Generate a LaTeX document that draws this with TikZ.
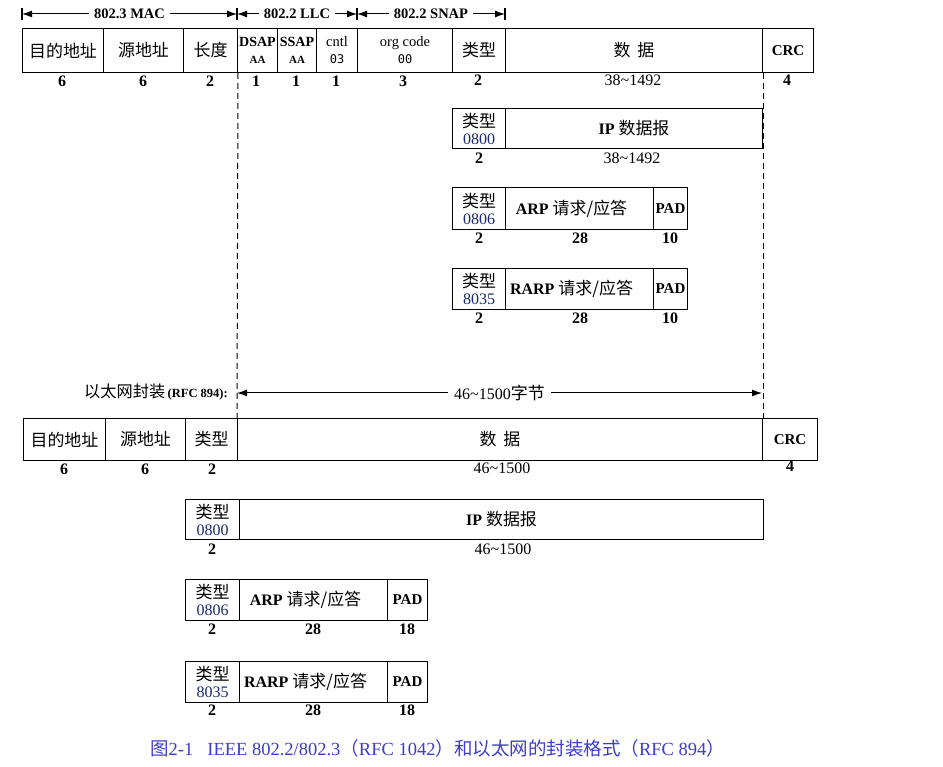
\documentclass[tikz,border=0pt]{standalone}
\usepackage{fontspec}
\setmainfont{Liberation Serif}
\newfontfamily\cjk[Scale=1.06]{Noto Sans CJK SC}
\newfontfamily\cjkc{Noto Sans CJK SC}
\newfontfamily\monof{DejaVu Sans Mono}
\usetikzlibrary{arrows.meta}
\definecolor{capblue}{RGB}{60,60,205}
\definecolor{numblue}{RGB}{25,40,110}
\newcommand\fld[6]{\node[cell, minimum width=#4pt, minimum height=#5pt] (#1) at (#2,#3) {#6};}
\newcommand\padfont{\fontsize{15}{18}\selectfont\bfseries}
\begin{document}
\begin{tikzpicture}[x=1pt,y=-1pt,
  cell/.style={draw, line width=1pt, anchor=north west, inner sep=0pt, align=center, font=\fontsize{16}{17}\selectfont},
  num/.style={font=\fontsize{16}{18}\selectfont\bfseries, inner sep=0pt},
  rng/.style={font=\fontsize{16}{18}\selectfont, inner sep=0pt},
  dashline/.style={line width=1pt, dash pattern=on 6pt off 4pt},
  span/.style={line width=1pt, {Latex[length=10pt,width=7pt]}-{Latex[length=10pt,width=7pt]}},
  barline/.style={line width=1.2pt},
  lbl/.style={fill=white, inner xsep=5pt, inner ysep=1pt, font=\fontsize{14.5}{16}\selectfont\bfseries},
  spanlbl/.style={fill=white, inner xsep=6pt, inner ysep=1pt, font=\fontsize{16}{18}\selectfont},
]
\useasboundingbox (0,0) rectangle (943,767);
% ---------- header spans
\coordinate (h0) at (22,14);
\coordinate (h1) at (237,14);
\coordinate (h2) at (357,14);
\coordinate (h3) at (505,14);
\draw[span] (h0) -- (h1) node[midway, lbl] (mac) {802.3 MAC};
\draw[span] (h1) -- (h2) node[midway, lbl] (llc) {802.2 LLC};
\draw[span] (h2) -- (h3) node[midway, lbl] (snap) {802.2 SNAP};
\foreach \h in {h0,h1,h2,h3}{\draw[barline] ([yshift=6pt]\h) -- ([yshift=-6pt]\h);}
% ---------- IEEE 802.2/802.3 frame
\fld{da}{22}{28}{81}{44}{\cjk 目的地址}
\fld{sa}{103}{28}{80}{44}{\cjk 源地址}
\fld{len}{183}{28}{54}{44}{\cjk 长度}
\fld{dsap}{237}{28}{40}{44}{\fontsize{14}{18}\selectfont\bfseries DSAP\\\fontsize{11}{18}\selectfont\bfseries AA}
\fld{ssap}{277}{28}{39}{44}{\fontsize{14}{18}\selectfont\bfseries SSAP\\\fontsize{11}{18}\selectfont\bfseries AA}
\fld{cntl}{316}{28}{41}{44}{\fontsize{14.5}{18}\selectfont cntl\\\monof\fontsize{12}{18}\selectfont 03}
\fld{org}{357}{28}{95}{44}{\fontsize{14.5}{18}\selectfont org code\\\monof\fontsize{12}{18}\selectfont 00}
\fld{typ}{452}{28}{53}{44}{\cjk 类型}
\fld{data}{505}{28}{257}{44}{{\cjk 数}\hspace{7pt}{\cjk 据}}
\fld{crc}{762}{28}{51}{44}{\fontsize{15}{18}\selectfont\bfseries CRC}
\node[num] (n1) at (62,81) {6};
\node[num] (n2) at (143,81) {6};
\node[num] (n3) at (210,81) {2};
\node[num] (n4) at (256,81) {1};
\node[num] (n5) at (296,81) {1};
\node[num] (n6) at (336,81) {1};
\node[num] (n7) at (403,81) {3};
\node[num] (n8) at (478,80) {2};
\node[rng] (n9) at (633,80) {38\textasciitilde 1492};
\node[num] (n10) at (787,80) {4};
% IP
\fld{ipt}{452}{108}{53}{40}{{\cjk 类型}\\{\color{numblue}0800}}
\fld{ipd}{505}{108}{257}{40}{\bfseries IP {\mdseries\cjk 数据报}}
\node[num] (n11) at (479,158) {2};
\node[rng] (n12) at (632,158) {38\textasciitilde 1492};
% ARP
\fld{arpt}{452}{187}{53}{42}{{\cjk 类型}\\{\color{numblue}0806}}
\fld{arpd}{505}{187}{148}{42}{\bfseries ARP {\mdseries\cjk 请求/应答}\hspace*{16pt}}
\fld{arpp}{653}{187}{34}{42}{\padfont PAD}
\node[num] (n13) at (479,238) {2};
\node[num] (n14) at (580,238) {28};
\node[num] (n15) at (670,238) {10};
% RARP
\fld{rarpt}{452}{268}{53}{41}{{\cjk 类型}\\{\color{numblue}8035}}
\fld{rarpd}{505}{268}{148}{41}{\bfseries RARP {\mdseries\cjk 请求/应答}\hspace*{16pt}}
\fld{rarpp}{653}{268}{34}{41}{\padfont PAD}
\node[num] (n16) at (479,318) {2};
\node[num] (n17) at (580,318) {28};
\node[num] (n18) at (670,318) {10};
% ---------- Ethernet encapsulation
\node[anchor=east, inner sep=0pt] (elbl) at (228,392) {{\cjk\fontsize{15.3}{18}\selectfont 以太网封装} {\fontsize{12.5}{14}\selectfont\bfseries (RFC 894):}};
\coordinate (e0) at (237,393);
\coordinate (e1) at (762,393);
\draw[span] (e0) -- (e1) node[midway, spanlbl] (elen) {46\textasciitilde 1500{\cjk 字节}};
\fld{eda}{23}{418}{82}{42}{\cjk 目的地址}
\fld{esa}{105}{418}{80}{42}{\cjk 源地址}
\fld{etyp}{185}{418}{52}{42}{\cjk 类型}
\fld{edata}{237}{418}{525}{42}{{\cjk 数}\hspace{7pt}{\cjk 据}}
\fld{ecrc}{762}{418}{55}{42}{\fontsize{15}{18}\selectfont\bfseries CRC}
\node[num] (m1) at (64,469) {6};
\node[num] (m2) at (145,469) {6};
\node[num] (m3) at (212,469) {2};
\node[rng] (m4) at (502,468) {46\textasciitilde 1500};
\node[num] (m5) at (790,466) {4};
% IP
\fld{eipt}{185}{499}{54}{40}{{\cjk 类型}\\{\color{numblue}0800}}
\fld{eipd}{239}{499}{524}{40}{\bfseries IP {\mdseries\cjk 数据报}}
\node[num] (m6) at (212,549) {2};
\node[rng] (m7) at (503,549) {46\textasciitilde 1500};
% ARP
\fld{earpt}{185}{579}{54}{41}{{\cjk 类型}\\{\color{numblue}0806}}
\fld{earpd}{239}{579}{148}{41}{\bfseries ARP {\mdseries\cjk 请求/应答}\hspace*{16pt}}
\fld{earpp}{387}{579}{40}{41}{\padfont PAD}
\node[num] (m8) at (212,629) {2};
\node[num] (m9) at (313,629) {28};
\node[num] (m10) at (407,629) {18};
% RARP
\fld{erarpt}{185}{661}{54}{41}{{\cjk 类型}\\{\color{numblue}8035}}
\fld{erarpd}{239}{661}{148}{41}{\bfseries RARP {\mdseries\cjk 请求/应答}\hspace*{16pt}}
\fld{erarpp}{387}{661}{40}{41}{\padfont PAD}
\node[num] (m11) at (212,710) {2};
\node[num] (m12) at (313,710) {28};
\node[num] (m13) at (407,710) {18};
% ---------- dashed guides
\draw[dashline] (len.south east) -- (edata.north west);
\draw[dashline] (data.south east) -- (edata.north east);
% ---------- caption
\node[anchor=west, inner sep=0pt, text=capblue, font=\fontsize{18.5}{20}\selectfont] (cap) at (150,748) {{\cjkc 图}2-1\hspace{14pt}IEEE 802.2/802.3{\cjkc （}RFC 1042{\cjkc ）和以太网的封装格式（}RFC 894{\cjkc ）}};
\end{tikzpicture}
\end{document}
